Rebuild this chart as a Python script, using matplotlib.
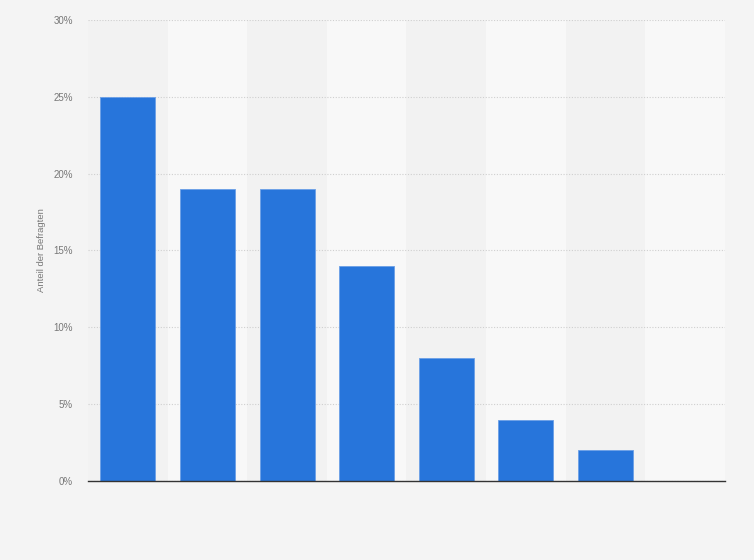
import numpy as np
import matplotlib.pyplot as plt
from matplotlib.ticker import FuncFormatter

# Data (share of respondents, percent)
categories = ["", "", "", "", "", "", "", ""]
values = [25, 19, 19, 14, 8, 4, 2, 0]
y_ticks = [0, 5, 10, 15, 20, 25, 30]


def main():
    plt.rcParams["font.family"] = ["Liberation Sans", "DejaVu Sans"]
    fig = plt.figure(figsize=(7.54, 5.6), dpi=100)
    fig.patch.set_facecolor("#f4f4f4")
    ax = fig.add_axes([0.1167, 0.1411, 0.8448, 0.8232])
    ax.set_facecolor("#f4f4f4")

    x = np.arange(len(categories))
    # alternating column bands
    for i in x:
        color = "#f2f2f2" if i % 2 == 0 else "#f8f8f8"
        ax.axvspan(i - 0.5, i + 0.5, color=color, zorder=0, lw=0)

    ax.bar(x, values, width=0.69, color="#2775db", edgecolor="#6b9fe6",
           linewidth=0.6, zorder=3)

    ax.set_xlim(-0.5, len(categories) - 0.5)
    ax.set_ylim(0, 30)
    ax.set_yticks(y_ticks)
    ax.yaxis.set_major_formatter(FuncFormatter(lambda v, p: f"{v:.0f}%"))
    ax.grid(axis="y", color="#cfcfcf", linestyle=(0, (1, 1.5)), linewidth=0.8,
            zorder=1)
    ax.set_xticks(x)
    ax.set_xticklabels(categories)

    for s in ["top", "right", "left"]:
        ax.spines[s].set_visible(False)
    ax.spines["bottom"].set_color("#333333")
    ax.spines["bottom"].set_linewidth(1.0)
    ax.spines["bottom"].set_zorder(4)

    ax.tick_params(axis="y", length=0, pad=11, labelsize=7, labelcolor="#777777")
    ax.tick_params(axis="x", length=0)
    ax.set_ylabel("Anteil der Befragten", fontsize=6.8, color="#777777",
                  labelpad=5)

    fig.savefig("out.png", dpi=100, facecolor=fig.get_facecolor())


if __name__ == "__main__":
    main()
